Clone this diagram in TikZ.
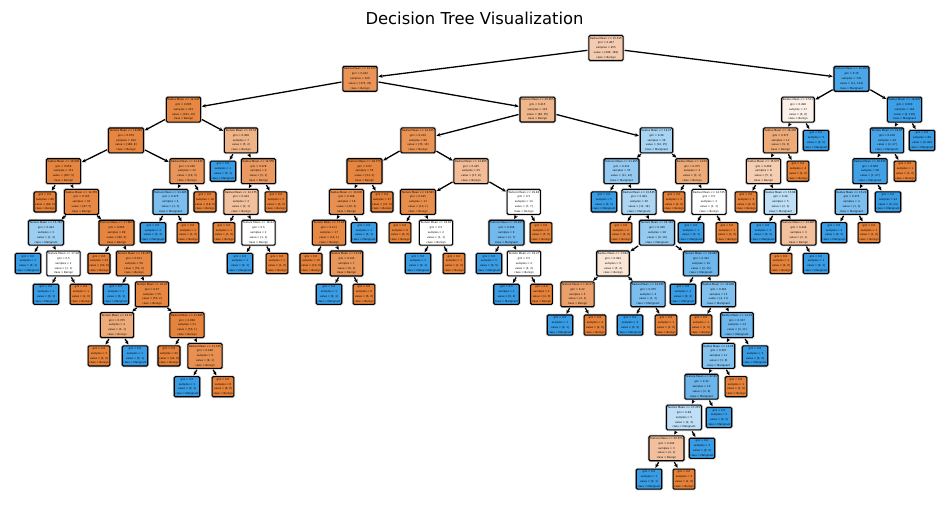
\documentclass[tikz,border=0pt]{standalone}
\usepackage{fontspec}
\setmainfont{DejaVu Sans}
\usetikzlibrary{arrows.meta}
\definecolor{cB}{RGB}{229,129,57}
\definecolor{cM}{RGB}{57,157,229}
\tikzset{
  tbox/.style={draw=black, line width=1.1pt, rounded corners=1.2pt, align=center,
    inner xsep=1.2pt, inner ysep=1.6pt, font=\fontsize{2.6}{4.8}\selectfont,
    preaction={draw=black!18, line width=2.6pt}},
  B/.style={fill=cB!#1!white},
  M/.style={fill=cM!#1!white},
  W/.style={fill=white},
  arr/.style={-{Stealth[length=4pt,width=3.6pt]}, line width=1.3pt,
    shorten <=1pt, shorten >=0.8pt}
}
% split node: name, x, y, fill, test, gini, samples, value, class
\newcommand{\dn}[9]{\node[tbox,#4] (#1) at (#2,#3) {#5\\gini = #6\\samples = #7\\value = [#8]\\class = #9};}
% leaf node: name, x, y, fill, samples, value, class
\newcommand{\lf}[7]{\node[tbox,#4] (#1) at (#2,#3) {gini = 0.0\\samples = #5\\value = [#6]\\class = #7};}
\begin{document}
\begin{tikzpicture}[x=1pt,y=-1pt]
\useasboundingbox (0,0) rectangle (950,504);
\node[font=\fontsize{16.4}{19}\selectfont, anchor=base] (title) at (474.5,24) {Decision Tree Visualization};

% depth 0-2
\dn{n0}{606}{48}{B=41}{Radius Mean <= 15.015}{0.467}{455}{286, 169}{Benign}
\dn{n1}{360}{78.8}{B=84}{Radius Mean <= 13.105}{0.242}{320}{275, 45}{Benign}
\dn{n96}{851.5}{78.8}{M=91}{Texture Mean <= 16.395}{0.15}{135}{11, 124}{Malignant}
\dn{n2}{183.5}{109.6}{B=95}{Radius Mean <= 12.045}{0.095}{201}{191, 10}{Benign}
\dn{n39}{537.5}{109.6}{B=58}{Texture Mean <= 20.055}{0.415}{119}{84, 35}{Benign}
\dn{n97}{798}{109.6}{B=11}{Radius Mean <= 17.01}{0.498}{17}{9, 8}{Benign}
\dn{n108}{904.5}{109.6}{M=98}{Radius Mean <= 16.825}{0.033}{118}{2, 116}{Malignant}

% depth 3
\dn{n3}{126}{140.4}{B=96}{Texture Mean <= 19.895}{0.079}{194}{186, 8}{Benign}
\dn{n30}{241}{140.4}{B=60}{Texture Mean <= 15.54}{0.408}{7}{5, 2}{Benign}
\dn{n40}{418}{140.4}{B=86}{Radius Mean <= 14.105}{0.219}{80}{70, 10}{Benign}
\dn{n63}{656.5}{140.4}{M=44}{Radius Mean <= 14.27}{0.46}{39}{14, 25}{Malignant}
\dn{n98}{780.5}{140.4}{B=67}{Radius Mean <= 16.405}{0.375}{12}{9, 3}{Benign}
\lf{n107}{816}{140.4}{M=100}{5}{0, 5}{Malignant}
\dn{n109}{887}{140.4}{M=93}{Texture Mean <= 19.85}{0.128}{29}{2, 27}{Malignant}
\lf{n116}{922}{140.4}{M=100}{89}{0, 89}{Malignant}

% depth 4
\dn{n4}{63.5}{171.2}{B=97}{Radius Mean <= 10.945}{0.056}{172}{167, 5}{Benign}
\dn{n25}{187}{171.2}{B=84}{Radius Mean <= 11.435}{0.236}{22}{19, 3}{Benign}
\lf{n31}{223}{171.2}{M=100}{1}{0, 1}{Malignant}
\dn{n32}{258.5}{171.2}{B=80}{Radius Mean <= 12.555}{0.278}{6}{5, 1}{Benign}
\dn{n41}{364.5}{171.2}{B=96}{Texture Mean <= 18.775}{0.07}{55}{53, 2}{Benign}
\dn{n50}{471}{171.2}{B=53}{Radius Mean <= 13.855}{0.435}{25}{17, 8}{Benign}
\dn{n64}{621.5}{171.2}{M=54}{Texture Mean <= 21.455}{0.431}{35}{11, 24}{Malignant}
\dn{n91}{692}{171.2}{B=67}{Radius Mean <= 14.59}{0.375}{4}{3, 1}{Benign}
\dn{n99}{763.5}{171.2}{B=40}{Radius Mean <= 15.675}{0.469}{8}{5, 3}{Benign}
\lf{n106}{798}{171.2}{B=100}{4}{4, 0}{Benign}
\dn{n110}{870}{171.2}{M=96}{Radius Mean <= 16.615}{0.069}{28}{1, 27}{Malignant}
\lf{n115}{905}{171.2}{B=100}{1}{1, 0}{Benign}

% depth 5
\lf{n5}{45}{201.9}{B=100}{80}{80, 0}{Benign}
\dn{n6}{81.5}{201.9}{B=94}{Radius Mean <= 11.355}{0.103}{92}{87, 5}{Benign}
\dn{n26}{170.5}{201.9}{M=67}{Texture Mean <= 22.485}{0.375}{4}{1, 3}{Malignant}
\lf{n29}{205}{201.9}{B=100}{18}{18, 0}{Benign}
\dn{n33}{241}{201.9}{B=50}{Radius Mean <= 12.175}{0.444}{3}{2, 1}{Benign}
\lf{n38}{276}{201.9}{B=100}{3}{3, 0}{Benign}
\dn{n42}{346.5}{201.9}{B=88}{Radius Mean <= 13.635}{0.198}{18}{16, 2}{Benign}
\lf{n49}{382}{201.9}{B=100}{37}{37, 0}{Benign}
\dn{n51}{418}{201.9}{B=90}{Texture Mean <= 19.545}{0.165}{11}{10, 1}{Benign}
\dn{n56}{523.8}{201.9}{W}{Texture Mean <= 19.48}{0.5}{14}{7, 7}{Benign}
\lf{n65}{604}{201.9}{M=100}{5}{0, 5}{Malignant}
\dn{n66}{639}{201.9}{M=42}{Radius Mean <= 13.545}{0.464}{30}{11, 19}{Malignant}
\lf{n92}{674}{201.9}{B=100}{2}{2, 0}{Benign}
\dn{n93}{709}{201.9}{W}{Radius Mean <= 14.725}{0.5}{2}{1, 1}{Benign}
\lf{n100}{746}{201.9}{B=100}{3}{3, 0}{Benign}
\dn{n101}{780.5}{201.9}{M=33}{Radius Mean <= 15.98}{0.48}{5}{2, 3}{Malignant}
\dn{n111}{851.5}{201.9}{M=67}{Radius Mean <= 15.29}{0.375}{4}{1, 3}{Malignant}
\lf{n114}{888}{201.9}{M=100}{24}{0, 24}{Malignant}

% depth 6
\dn{n7}{46}{232.7}{M=50}{Texture Mean <= 15.795}{0.444}{3}{1, 2}{Malignant}
\dn{n12}{116.5}{232.7}{B=97}{Texture Mean <= 17.965}{0.065}{89}{86, 3}{Benign}
\lf{n27}{153}{232.7}{M=100}{3}{0, 3}{Malignant}
\lf{n28}{188}{232.7}{B=100}{1}{1, 0}{Benign}
\lf{n34}{224}{232.7}{B=100}{1}{1, 0}{Benign}
\dn{n35}{258.5}{232.7}{W}{Texture Mean <= 18.44}{0.5}{2}{1, 1}{Benign}
\dn{n43}{329}{232.7}{B=94}{Texture Mean <= 17.86}{0.111}{17}{16, 1}{Benign}
\lf{n48}{364}{232.7}{M=100}{1}{0, 1}{Malignant}
\lf{n52}{400}{232.7}{B=100}{9}{9, 0}{Benign}
\dn{n53}{436}{232.7}{W}{Texture Mean <= 19.81}{0.5}{2}{1, 1}{Benign}
\dn{n57}{506.5}{232.7}{M=71}{Texture Mean <= 19.045}{0.346}{9}{2, 7}{Malignant}
\lf{n62}{541}{232.7}{B=100}{5}{5, 0}{Benign}
\lf{n67}{621}{232.7}{B=100}{2}{2, 0}{Benign}
\dn{n68}{657}{232.7}{M=53}{Texture Mean <= 24.165}{0.436}{28}{9, 19}{Malignant}
\lf{n94}{691}{232.7}{M=100}{1}{0, 1}{Malignant}
\lf{n95}{727}{232.7}{B=100}{1}{1, 0}{Benign}
\lf{n102}{763}{232.7}{M=100}{2}{0, 2}{Malignant}
\dn{n103}{798.5}{232.7}{B=50}{Texture Mean <= 14.985}{0.444}{3}{2, 1}{Benign}
\lf{n112}{834}{232.7}{M=100}{3}{0, 3}{Malignant}
\lf{n113}{869}{232.7}{B=100}{1}{1, 0}{Benign}

% depth 7
\lf{n8}{28}{263.5}{M=100}{1}{0, 1}{Malignant}
\dn{n9}{63.5}{263.5}{W}{Texture Mean <= 17.28}{0.5}{2}{1, 1}{Benign}
\lf{n13}{99}{263.5}{B=100}{33}{33, 0}{Benign}
\dn{n14}{134}{263.5}{B=94}{Texture Mean <= 18.255}{0.101}{56}{53, 3}{Benign}
\lf{n36}{240}{263.5}{M=100}{1}{0, 1}{Malignant}
\lf{n37}{277}{263.5}{B=100}{1}{1, 0}{Benign}
\lf{n44}{311}{263.5}{B=100}{10}{10, 0}{Benign}
\dn{n45}{346.5}{263.5}{B=83}{Radius Mean <= 13.28}{0.245}{7}{6, 1}{Benign}
\lf{n54}{418}{263.5}{M=100}{1}{0, 1}{Malignant}
\lf{n55}{454}{263.5}{B=100}{1}{1, 0}{Benign}
\lf{n58}{489}{263.5}{M=100}{5}{0, 5}{Malignant}
\dn{n59}{524}{263.5}{W}{Texture Mean <= 19.27}{0.5}{4}{2, 2}{Benign}
\dn{n69}{613}{263.5}{B=20}{Radius Mean <= 13.82}{0.494}{9}{5, 4}{Benign}
\dn{n76}{701}{263.5}{M=73}{Texture Mean <= 26.695}{0.332}{19}{4, 15}{Malignant}
\lf{n104}{781}{263.5}{B=100}{2}{2, 0}{Benign}
\lf{n105}{816}{263.5}{M=100}{1}{0, 1}{Malignant}

% depth 8
\lf{n10}{46}{294.3}{M=100}{1}{0, 1}{Malignant}
\lf{n11}{81}{294.3}{B=100}{1}{1, 0}{Benign}
\lf{n15}{116}{294.3}{M=100}{1}{0, 1}{Malignant}
\dn{n16}{152}{294.3}{B=96}{Texture Mean <= 22.47}{0.07}{55}{53, 2}{Benign}
\lf{n46}{329}{294.3}{M=100}{1}{0, 1}{Malignant}
\lf{n47}{364}{294.3}{B=100}{6}{6, 0}{Benign}
\lf{n60}{506.5}{294.3}{M=100}{2}{0, 2}{Malignant}
\lf{n61}{541.5}{294.3}{B=100}{2}{2, 0}{Benign}
\dn{n70}{577.5}{294.3}{B=75}{Texture Mean <= 22.27}{0.32}{5}{4, 1}{Benign}
\dn{n73}{648}{294.3}{M=67}{Radius Mean <= 14.035}{0.375}{4}{1, 3}{Malignant}
\lf{n77}{683}{294.3}{M=100}{4}{0, 4}{Malignant}
\dn{n78}{718.5}{294.3}{M=64}{Radius Mean <= 13.665}{0.391}{15}{4, 11}{Malignant}

% depth 9
\dn{n17}{117}{325.1}{B=67}{Texture Mean <= 23.07}{0.375}{4}{3, 1}{Benign}
\dn{n20}{187}{325.1}{B=98}{Radius Mean <= 11.665}{0.038}{51}{50, 1}{Benign}
\lf{n71}{560}{325.1}{M=100}{1}{0, 1}{Malignant}
\lf{n72}{595}{325.1}{B=100}{4}{4, 0}{Benign}
\lf{n74}{630}{325.1}{M=100}{3}{0, 3}{Malignant}
\lf{n75}{666}{325.1}{B=100}{1}{1, 0}{Benign}
\lf{n79}{701}{325.1}{B=100}{1}{1, 0}{Benign}
\dn{n80}{737}{325.1}{M=73}{Radius Mean <= 14.19}{0.337}{14}{3, 11}{Malignant}

% depth 10
\lf{n18}{99}{355.9}{B=100}{3}{3, 0}{Benign}
\lf{n19}{135}{355.9}{M=100}{1}{0, 1}{Malignant}
\lf{n21}{169}{355.9}{B=100}{42}{42, 0}{Benign}
\dn{n22}{205}{355.9}{B=88}{Radius Mean <= 11.745}{0.198}{9}{8, 1}{Benign}
\dn{n81}{718.5}{355.9}{M=62}{Radius Mean <= 14.05}{0.397}{11}{3, 8}{Malignant}
\lf{n90}{755}{355.9}{M=100}{3}{0, 3}{Malignant}

% depth 11
\lf{n23}{187}{386.7}{M=100}{1}{0, 1}{Malignant}
\lf{n24}{223}{386.7}{B=100}{8}{8, 0}{Benign}
\dn{n82}{701.5}{386.7}{M=75}{Texture Mean <= 27.85}{0.32}{10}{2, 8}{Malignant}
\lf{n89}{736}{386.7}{B=100}{1}{1, 0}{Benign}

% depth 12-14
\dn{n83}{684}{417.5}{M=33}{Texture Mean <= 27.215}{0.48}{5}{2, 3}{Malignant}
\lf{n88}{719}{417.5}{M=100}{5}{0, 5}{Malignant}
\dn{n84}{666.5}{448.3}{B=50}{Texture Mean <= 26.975}{0.444}{3}{2, 1}{Benign}
\lf{n87}{702}{448.3}{M=100}{2}{0, 2}{Malignant}
\lf{n85}{649}{479.1}{M=100}{1}{0, 1}{Malignant}
\lf{n86}{684}{479.1}{B=100}{2}{2, 0}{Benign}

% parent -> child arrows
\foreach \a/\b in {n0/n1, n0/n96, n1/n2, n1/n39, n2/n3, n2/n30, n3/n4, n3/n25,
  n4/n5, n4/n6, n6/n7, n6/n12, n7/n8, n7/n9, n9/n10, n9/n11, n12/n13, n12/n14,
  n14/n15, n14/n16, n16/n17, n16/n20, n17/n18, n17/n19, n20/n21, n20/n22,
  n22/n23, n22/n24, n25/n26, n25/n29, n26/n27, n26/n28, n30/n31, n30/n32,
  n32/n33, n32/n38, n33/n34, n33/n35, n35/n36, n35/n37, n39/n40, n39/n63,
  n40/n41, n40/n50, n41/n42, n41/n49, n42/n43, n42/n48, n43/n44, n43/n45,
  n45/n46, n45/n47, n50/n51, n50/n56, n51/n52, n51/n53, n53/n54, n53/n55,
  n56/n57, n56/n62, n57/n58, n57/n59, n59/n60, n59/n61, n63/n64, n63/n91,
  n64/n65, n64/n66, n66/n67, n66/n68, n68/n69, n68/n76, n69/n70, n69/n73,
  n70/n71, n70/n72, n73/n74, n73/n75, n76/n77, n76/n78, n78/n79, n78/n80,
  n80/n81, n80/n90, n81/n82, n81/n89, n82/n83, n82/n88, n83/n84, n83/n87,
  n84/n85, n84/n86, n91/n92, n91/n93, n93/n94, n93/n95, n96/n97, n96/n108,
  n97/n98, n97/n107, n98/n99, n98/n106, n99/n100, n99/n101, n101/n102,
  n101/n103, n103/n104, n103/n105, n108/n109, n108/n116, n109/n110,
  n109/n115, n110/n111, n110/n114, n111/n112, n111/n113}
  \draw[arr] (\a) -- (\b);
\end{tikzpicture}
\end{document}
